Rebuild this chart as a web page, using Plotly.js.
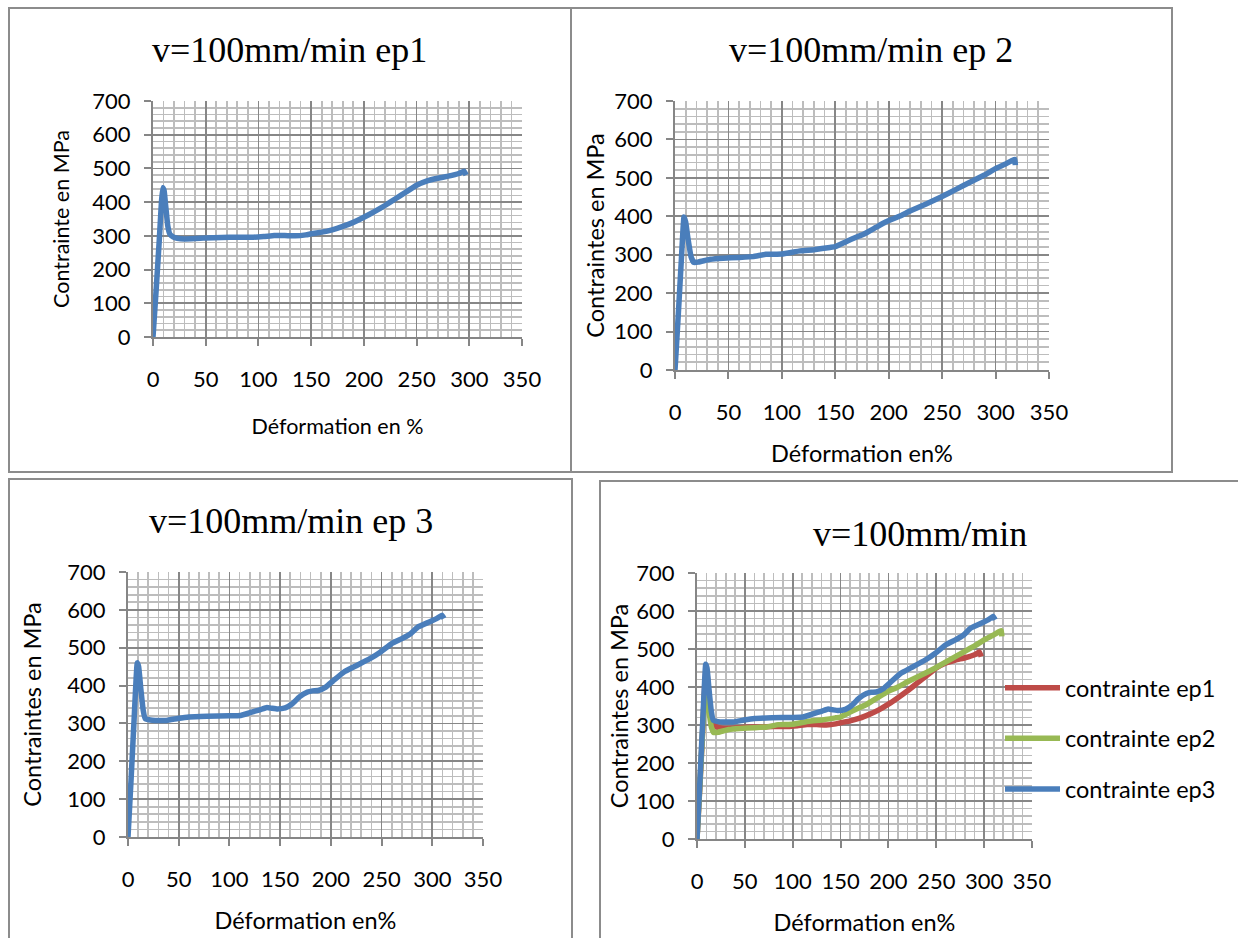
<!DOCTYPE html>
<html><head><meta charset="utf-8">
<script src="https://cdn.plot.ly/plotly-3.0.1.min.js"></script>
<style>html,body{margin:0;padding:0;background:#fff}#chart{width:1238px;height:938px}</style>
</head><body><div id="chart"></div>
<script>
// ---- data ----
const strainEp1 = [0, 3, 6, 8, 9.3, 10.5, 12, 14, 16, 19, 23, 30, 40, 50, 65, 80, 95, 105, 115, 125, 135, 145, 150, 160, 170, 180, 190, 200, 210, 220, 230, 240, 250, 260, 270, 280, 290, 295, 297];
const stressEp1 = [0, 140, 290, 400, 443, 435, 390, 330, 305, 297, 293, 291, 292, 294, 295, 296, 296, 298, 301, 301, 300, 303, 306, 311, 318, 328, 340, 355, 372, 390, 410, 430, 450, 463, 471, 477, 485, 492, 480];

const strainEp2 = [0, 3, 6, 8.4, 10, 12, 15, 17.5, 22, 33, 45, 60, 73, 85, 100, 117, 130, 145, 150, 160, 170, 177, 188, 197, 210, 221, 235, 249, 263, 277, 290, 300, 310, 316, 318, 318.5];
const stressEp2 = [0, 140, 290, 398, 385, 345, 295, 280, 281, 288, 291, 293, 295, 301, 302, 310, 313, 319, 321, 334, 346, 354, 371, 385, 400, 415, 432, 450, 470, 490, 508, 524, 537, 546, 548, 533];

const strainEp3 = [0, 3, 6, 9.1, 10.5, 12.5, 15, 17, 22, 27, 38, 49, 60, 78, 100, 111, 122, 130, 137, 142, 147.5, 155, 162, 169, 177, 182, 187.5, 195, 202, 213, 224, 238.5, 249, 260, 270, 278.6, 286, 297, 305, 309.5, 311.5];
const stressEp3 = [0, 150, 310, 460, 450, 395, 335, 313, 309, 308, 308, 313, 317, 319, 320, 321, 330, 336, 342, 340, 338, 341, 352, 370, 383, 386, 387, 396, 412, 436, 451, 471, 489, 511, 524, 537, 555, 568, 578, 586, 577];

const seriesNames = ['contrainte ep1', 'contrainte ep2', 'contrainte ep3'];
const panelTitles = ['v=100mm/min ep1', 'v=100mm/min ep 2', 'v=100mm/min ep 3', 'v=100mm/min'];
const xTitles = ['Déformation en %', 'Déformation en%', 'Déformation en%', 'Déformation en%'];
const yTitles = ['Contrainte en MPa', 'Contraintes en MPa', 'Contraintes en MPa', 'Contraintes en MPa'];

// ---- layout helpers (pixel -> paper) ----
const W = 1238, H = 938;
const fx = x => x / W;
const fy = y => 1 - y / H;

const BLUE = '#4A7EBB', RED = '#BE4B48', GREEN = '#98B954';
const SANS = 'Lato, "Open Sans", sans-serif';
const SERIF = '"Liberation Serif", "Times New Roman", serif';

// plot areas in pixels: [left, right, top, bottom]
const boxes = [
  [153, 522, 101, 337],
  [675, 1049, 101, 370],
  [128, 483, 572, 837],
  [697, 1032, 573, 839]
];
const yStand = [17, 3, 19, 1];
const xStand = [28, 21, 21, 21];
const titleSize = [21.5, 23.5, 23.5, 23.5];

function xAxis(i) {
  const b = boxes[i];
  return {
    domain: [fx(b[0]), fx(b[1])], anchor: i === 0 ? 'y' : 'y' + (i + 1),
    range: [0, 350], tick0: 0, dtick: 50, fixedrange: true,
    showgrid: true, gridcolor: '#878787', gridwidth: 1.7,
    minor: {dtick: 10, showgrid: true, gridcolor: '#BDBDBD', gridwidth: 1.7},
    showline: true, linecolor: '#868686', linewidth: 2,
    ticks: 'outside', ticklen: 7, tickwidth: 2, tickcolor: '#868686',
    ticklabelstandoff: 15,
    zeroline: false,
    tickfont: {family: SANS, size: 22, color: '#000'},
    title: {text: xTitles[i], standoff: xStand[i], font: {family: SANS, size: titleSize[i], color: '#000'}}
  };
}
function yAxis(i) {
  const b = boxes[i];
  return {
    domain: [fy(b[3]), fy(b[2])], anchor: i === 0 ? 'x' : 'x' + (i + 1),
    range: [0, 700], tick0: 0, dtick: 100, fixedrange: true,
    showgrid: true, gridcolor: '#878787', gridwidth: 1.7,
    minor: {dtick: 20, showgrid: true, gridcolor: '#BDBDBD', gridwidth: 1.7},
    showline: true, linecolor: '#868686', linewidth: 2,
    ticks: 'outside', ticklen: 7, tickwidth: 2, tickcolor: '#868686',
    ticklabelstandoff: 9,
    zeroline: false,
    tickfont: {family: SANS, size: 22, color: '#000'},
    title: {text: yTitles[i], standoff: yStand[i], font: {family: SANS, size: titleSize[i], color: '#000'}}
  };
}

function line(x, y, color, ax, name, show) {
  return {
    type: 'scatter', mode: 'lines', x: x, y: y, name: name,
    xaxis: ax[0], yaxis: ax[1], showlegend: show, legendgroup: name,
    line: {color: color, width: 5.5, shape: 'spline', smoothing: 0.3},
    hoverinfo: 'skip'
  };
}

const data = [
  line(strainEp1, stressEp1, BLUE, ['x', 'y'], 'ep1', false),
  line(strainEp2, stressEp2, BLUE, ['x2', 'y2'], 'ep2', false),
  line(strainEp3, stressEp3, BLUE, ['x3', 'y3'], 'ep3', false),
  line(strainEp1, stressEp1, RED, ['x4', 'y4'], seriesNames[0], true),
  line(strainEp2, stressEp2, GREEN, ['x4', 'y4'], seriesNames[1], true),
  line(strainEp3, stressEp3, BLUE, ['x4', 'y4'], seriesNames[2], true)
];

const titlePos = [[289, 50], [871, 50], [291, 521], [920, 534]];
const annotations = panelTitles.map((t, i) => ({
  text: t, xref: 'paper', yref: 'paper', x: fx(titlePos[i][0]), y: fy(titlePos[i][1]),
  xanchor: 'center', yanchor: 'middle', showarrow: false,
  font: {family: SERIF, size: 36, color: '#000'}
}));

const BC = '#8C8C8C';
function rect(x0, y0, x1, y1) {
  return {type: 'rect', xref: 'paper', yref: 'paper', x0: fx(x0), x1: fx(x1), y0: fy(y0), y1: fy(y1),
    line: {color: BC, width: 2}, fillcolor: 'rgba(0,0,0,0)', layer: 'below'};
}
const shapes = [
  rect(9, 8, 571, 472),
  rect(571, 8, 1172, 472),
  rect(9, 479, 572, 960),
  rect(600, 481, 1260, 960)
];

const layout = {
  width: W, height: H, margin: {l: 0, r: 0, t: 0, b: 0},
  paper_bgcolor: '#fff', plot_bgcolor: '#fff',
  showlegend: true,
  legend: {x: fx(1000), y: fy(666), xanchor: 'left', yanchor: 'top',
    font: {family: SANS, size: 23.5, color: '#000'}, tracegroupgap: 17, itemwidth: 55,
    bgcolor: 'rgba(0,0,0,0)', borderwidth: 0, traceorder: 'grouped'},
  annotations: annotations, shapes: shapes,
  xaxis: xAxis(0), yaxis: yAxis(0),
  xaxis2: xAxis(1), yaxis2: yAxis(1),
  xaxis3: xAxis(2), yaxis3: yAxis(2),
  xaxis4: xAxis(3), yaxis4: yAxis(3)
};

Plotly.newPlot('chart', data, layout, {staticPlot: true, displayModeBar: false});
</script>
</body></html>
